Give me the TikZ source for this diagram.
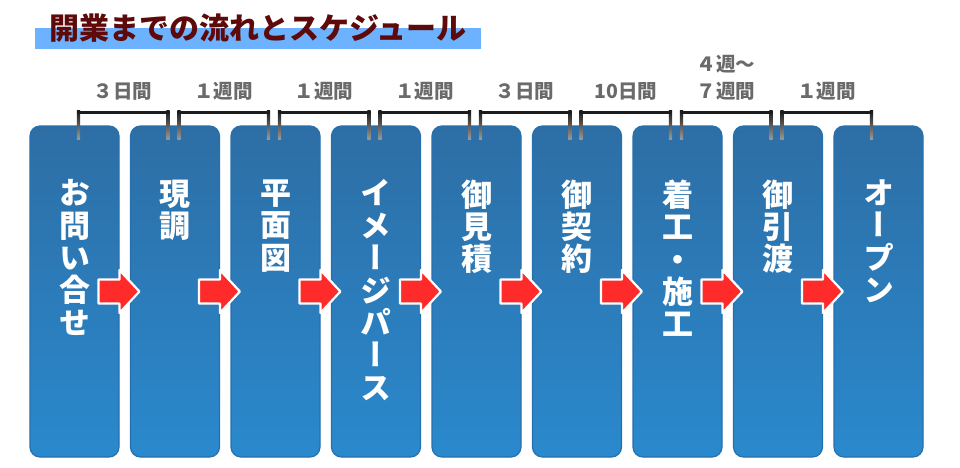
\documentclass[tikz,border=0pt]{standalone}
\usepackage{fontspec}
\newfontfamily\jp{Noto Sans CJK JP}
\newfontfamily\jpv[RawFeature=+vert]{Noto Sans CJK JP}
\usetikzlibrary{calc}
\definecolor{titlered}{HTML}{5E0A0A}
\definecolor{titlebar}{HTML}{6CB2FF}
\definecolor{boxtop}{HTML}{2D6EA5}
\definecolor{boxbot}{HTML}{2A89CD}
\definecolor{boxedge}{HTML}{2670AE}
\definecolor{arrowred}{HTML}{FF2A2A}
\definecolor{labelgrey}{HTML}{6A6A6A}
\definecolor{bracketdark}{HTML}{1C1C1C}
\definecolor{bracketlight}{HTML}{9A9A9A}
\tikzset{
  stepbox/.style={rectangle, rounded corners=10pt, minimum width=89pt, minimum height=331pt,
    inner sep=0pt, draw=boxedge, line width=1.2pt, top color=boxtop, bottom color=boxbot},
  vtxt/.style={inner sep=0pt, align=center, text=white,
    font=\jpv\bfseries\fontsize{31}{32.4}\selectfont},
  durlabel/.style={inner sep=0pt, align=center, text=labelgrey,
    font=\jp\bfseries\fontsize{19.5}{27}\selectfont},
  flowarrow/.style={fill=arrowred, draw=white, line width=2.2pt, line join=round},
  titletext/.style={inner sep=0pt, text=titlered, font=\jp\bfseries\fontsize{30}{30}\selectfont},
}
\begin{document}
\begin{tikzpicture}[x=1pt,y=-1pt]
\useasboundingbox[fill=white] (0,0) rectangle (960,467);
% title
\fill[titlebar] (35,28) rectangle (481,49);
\node[titletext] (title) at (258,28) {開業までの流れとスケジュール};
% boxes
\foreach \i in {0,...,8}{
  \pgfmathsetmacro{\cx}{30+100.5*\i+44.5}
  \node[stepbox] (box\i) at (\cx,291.5) {};
}
% texts
\foreach \i/\t in {0/{お\\問\\い\\合\\せ},1/{現\\調},2/{平\\面\\図},3/{イ\\メ\\ー\\ジ\\パ\\ー\\ス},
  4/{御\\見\\積},5/{御\\契\\約},6/{着\\工\\・\\施\\工},7/{御\\引\\渡},8/{オ\\ー\\プ\\ン}}{
  \node[vtxt, anchor=north] (txt\i) at ($(box\i.north)+(0,54)$) {\t};
}
% arrows
\foreach \i in {0,...,7}{
  \coordinate (arr\i) at ($(box\i.west)+(69,0)$);
  \draw[flowarrow] (arr\i) ++(0,-12) -- ++(21,0) -- ++(0,-9.5) -- ++(20,21.5) -- ++(-20,21.5)
     -- ++(0,-9.5) -- ++(-21,0) -- cycle;
}
% brackets
\foreach \i/\lab [count=\j from 1] in {0/３日間,1/１週間,2/１週間,3/１週間,4/３日間,5/10日間,6/{４週〜\\７週間},7/１週間}{
  \coordinate (bl\i) at ($(box\i.north west)+(49,-13)$);
  \coordinate (br\i) at ($(box\j.north west)+(38,-13)$);
  \shade[top color=bracketdark, bottom color=bracketlight] ($(bl\i)+(-1.6,-1.5)$) rectangle ($(bl\i)+(1.6,27)$);
  \shade[top color=bracketdark, bottom color=bracketlight] ($(br\i)+(-1.6,-1.5)$) rectangle ($(br\i)+(1.6,27)$);
  \fill[bracketdark] ($(bl\i)+(-1.6,-1.6)$) rectangle ($(br\i)+(1.6,1.6)$);
  \node[durlabel, anchor=south] (lab\i) at ($(bl\i)!0.5!(br\i)+(0,-12)$) {\lab};
}
\end{tikzpicture}
\end{document}
